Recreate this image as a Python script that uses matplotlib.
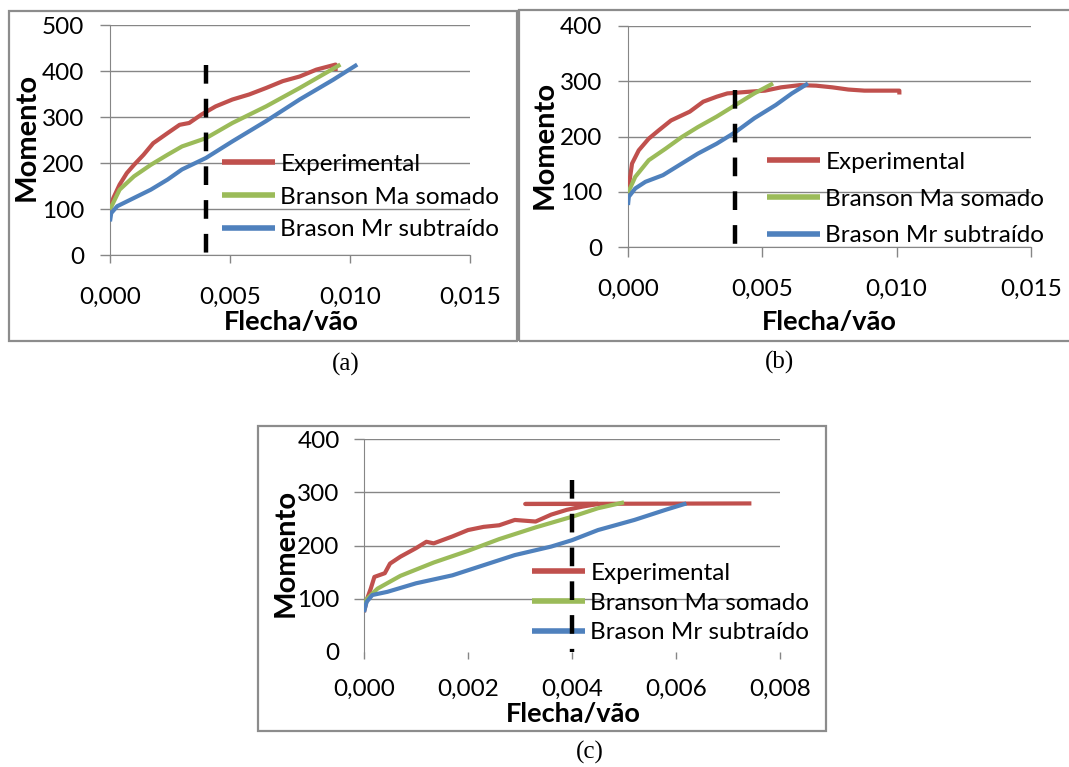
import matplotlib
matplotlib.use("Agg")
import matplotlib.pyplot as plt
from matplotlib.patches import Rectangle

# ---- data ----
labels = ["Experimental", "Branson Ma somado", "Brason Mr subtraído"]
colors = ["#C0504D", "#9BBB59", "#4F81BD"]

# panel (a)
a_exp_x = [0, 0.00014, 0.0004, 0.0007, 0.0010, 0.0014, 0.0018, 0.0024, 0.0029, 0.0033,
           0.0038, 0.0044, 0.0051, 0.0058, 0.0065, 0.0072, 0.0079, 0.0086, 0.0094, 0.0094]
a_exp_y = [99, 124, 153, 178, 196, 218, 243, 265, 283, 287,
           305, 323, 338, 349, 363, 378, 388, 403, 414, 400]
a_bma_x = [0, 0.0004, 0.0010, 0.0017, 0.0024, 0.0030, 0.0040, 0.0051, 0.0065, 0.0079, 0.0096]
a_bma_y = [99, 142, 171, 196, 218, 236, 254, 287, 323, 363, 414]
a_bmr_x = [0, 0.00005, 0.0003, 0.0010, 0.0017, 0.0024, 0.0030, 0.0040, 0.0051, 0.0065, 0.0079, 0.0093, 0.0103]
a_bmr_y = [73, 91, 106, 124, 142, 164, 186, 211, 247, 291, 338, 381, 414]

# panel (b)
b_exp_x = [0, 0.00015, 0.0004, 0.00077, 0.00114, 0.0016, 0.0023, 0.0028, 0.0033, 0.0037,
           0.0045, 0.0051, 0.0057, 0.0064, 0.0070, 0.0076, 0.0082, 0.0088, 0.0095, 0.0101, 0.0101]
b_exp_y = [100, 151, 175, 196, 211, 229, 245, 263, 272, 278,
           281, 283, 289, 293, 292, 289, 285, 283, 283, 283, 276]
b_bma_x = [0, 0.00027, 0.00077, 0.0014, 0.0020, 0.0026, 0.0033, 0.0040, 0.0047, 0.0054]
b_bma_y = [98, 127, 157, 178, 199, 217, 236, 257, 278, 296]
b_bmr_x = [0, 0.00003, 0.00027, 0.00065, 0.0013, 0.0020, 0.0026, 0.0033, 0.0040, 0.0047, 0.0055, 0.0061, 0.0067]
b_bmr_y = [76, 91, 106, 118, 130, 151, 169, 187, 208, 233, 257, 278, 296]

# panel (c)
c_exp_x = [0, 0.00006, 0.00013, 0.0002, 0.0004, 0.0005, 0.0007, 0.0010, 0.0012, 0.00134,
           0.0017, 0.0020, 0.0023, 0.0026, 0.0029, 0.0033, 0.0036, 0.0039, 0.0042, 0.0045,
           0.0031, 0.00745]
c_exp_y = [75, 100, 119, 141, 148, 166, 179, 195, 207, 204,
           217, 229, 235, 238, 248, 245, 258, 267, 273, 278,
           278, 279]
c_bma_x = [0, 0.00006, 0.00026, 0.0007, 0.00134, 0.0020, 0.0026, 0.0033, 0.0040, 0.0045, 0.0050]
c_bma_y = [85, 100, 119, 143, 168, 190, 212, 234, 254, 270, 281]
c_bmr_x = [0, 0.00005, 0.00016, 0.00045, 0.0010, 0.0017, 0.0023, 0.0029, 0.0036, 0.0040,
           0.0045, 0.0052, 0.0058, 0.0062]
c_bmr_y = [75, 94, 107, 113, 129, 144, 163, 182, 198, 210, 229, 248, 267, 279]

xticks_ab = [0, 0.005, 0.010, 0.015]
xticklabels_ab = ["0,000", "0,005", "0,010", "0,015"]
xticks_c = [0, 0.002, 0.004, 0.006, 0.008]
xticklabels_c = ["0,000", "0,002", "0,004", "0,006", "0,008"]
yticks_a = [0, 100, 200, 300, 400, 500]
yticks_bc = [0, 100, 200, 300, 400]
limit_x = 0.004
dash_tops = [414, 285, 323]

W, H = 1069, 767
GRAY = "#868686"
FONT = ["Lato", "DejaVu Sans"]
FS = 17.5
FS_LAB = 19.5

plt.rcParams["font.family"] = FONT

fig = plt.figure(figsize=(W / 100, H / 100), dpi=100)


def px_axes(l, t, r, b):
    return fig.add_axes([l / W, 1 - b / H, (r - l) / W, (b - t) / H])


def frame(l, t, r, b):
    fig.add_artist(Rectangle((l / W, 1 - b / H), (r - l) / W, (b - t) / H,
                             transform=fig.transFigure, fill=False,
                             edgecolor="#8c8c8c", linewidth=1.6))


def panel(ax, series, xticks, xticklabels, yticks, dash_top, xpad, ypad, ylab_xy,
          xlab_xy, leg_xy, leg_space, zero_line=True, xtick_len=7):
    for (x, y), c, lab in zip(series, colors, labels):
        ax.plot(x, y, color=c, lw=3, label=lab, solid_capstyle="butt", zorder=3)
    ax.plot([limit_x, limit_x], [dash_top, 0], color="black", lw=3.2,
            dashes=(4.2, 3.4), zorder=6)
    ax.set_xlim(xticks[0], xticks[-1])
    ax.set_ylim(yticks[0], yticks[-1])
    ax.set_xticks(xticks)
    ax.set_xticklabels(xticklabels)
    ax.set_yticks(yticks)
    ax.yaxis.grid(True, color=GRAY, lw=1)
    for s in ["top", "right"]:
        ax.spines[s].set_visible(False)
    ax.spines["left"].set_color(GRAY)
    ax.spines["bottom"].set_color(GRAY)
    ax.spines["bottom"].set_visible(zero_line)
    ax.tick_params(axis="y", length=7.5, width=1, color=GRAY, pad=ypad, labelsize=FS)
    ax.tick_params(axis="x", length=xtick_len, width=1, color=GRAY, pad=xpad, labelsize=FS)
    if not zero_line:
        t0 = ax.yaxis.get_major_ticks()[0]
        t0.tick1line.set_visible(False)
        t0.gridline.set_visible(False)
    ax.set_facecolor("none")
    ax.set_ylabel("Momento", fontsize=FS_LAB + 1.5, fontweight="bold")
    ax.yaxis.set_label_coords(*ylab_xy)
    ax.yaxis.label.set_verticalalignment("center")
    ax.set_xlabel("Flecha/vão", fontsize=FS_LAB, fontweight="bold")
    ax.xaxis.set_label_coords(*xlab_xy)
    ax.xaxis.label.set_verticalalignment("center")
    leg = ax.legend(loc="center left", bbox_to_anchor=(leg_xy[0] / W, 1 - leg_xy[1] / H),
                    bbox_transform=fig.transFigure, frameon=False, fontsize=FS,
                    handlelength=2.2, handletextpad=0.2, labelspacing=leg_space,
                    borderpad=0, borderaxespad=0)
    for ln in leg.get_lines():
        ln.set_linewidth(4)
    leg.set_zorder(5)


frame(9, 11, 517, 341)
frame(519, 10, 1080, 341)
frame(258, 426, 826, 731)

ax_a = px_axes(110, 25, 470, 255)
panel(ax_a, [(a_exp_x, a_exp_y), (a_bma_x, a_bma_y), (a_bmr_x, a_bmr_y)],
      xticks_ab, xticklabels_ab, yticks_a, dash_tops[0], xpad=17, ypad=11,
      ylab_xy=(-0.232, 0.513), xlab_xy=(0.503, -0.291), leg_xy=(222, 197),
      leg_space=0.49, xtick_len=6)

ax_b = px_axes(628, 26, 1031, 247)
panel(ax_b, [(b_exp_x, b_exp_y), (b_bma_x, b_bma_y), (b_bmr_x, b_bmr_y)],
      xticks_ab, xticklabels_ab, yticks_bc, dash_tops[1], xpad=16, ypad=11,
      ylab_xy=(-0.206, 0.46), xlab_xy=(0.499, -0.339), leg_xy=(767, 199),
      leg_space=0.65)

ax_c = px_axes(364, 439, 780, 652)
panel(ax_c, [(c_exp_x, c_exp_y), (c_bma_x, c_bma_y), (c_bmr_x, c_bmr_y)],
      xticks_c, xticklabels_c, yticks_bc, dash_tops[2], xpad=14, ypad=10,
      ylab_xy=(-0.1875, 0.465), xlab_xy=(0.502, -0.291), leg_xy=(532, 603),
      leg_space=0.35, zero_line=False, xtick_len=5)

for txt, x, y in [("(a)", 346, 364), ("(b)", 780, 362), ("(c)", 590, 752)]:
    fig.text(x / W, 1 - y / H, txt, ha="center", va="center", fontsize=18,
             family="Liberation Serif")

fig.savefig("out.png", dpi=100)
